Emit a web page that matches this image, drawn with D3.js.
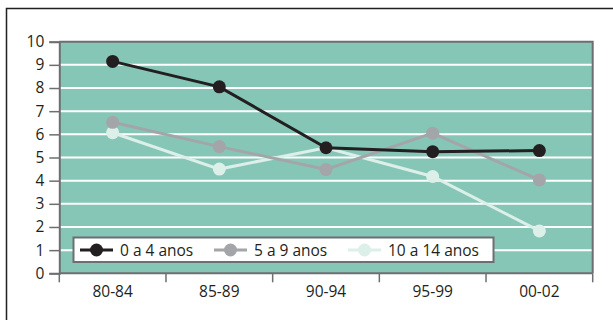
<!DOCTYPE html>
<html>
<head>
<meta charset="utf-8">
<script src="https://cdn.jsdelivr.net/npm/d3@7"></script>
<style>
  html, body { margin: 0; padding: 0; background: #fff; }
  svg { display: block; }
  text { font-family: "Open Sans", "DejaVu Sans", sans-serif; fill: #231f20; }
</style>
</head>
<body>
<svg id="chart" width="613" height="320"></svg>
<script>
// Periods on the horizontal axis
const periods = ["80-84", "85-89", "90-94", "95-99", "00-02"];

// Series values per age group
const age0to4 = [9.15, 8.05, 5.42, 5.25, 5.3];
const age5to9 = [6.52, 5.47, 4.48, 6.05, 4.03];
const age10to14 = [6.07, 4.5, 5.42, 4.18, 1.83];

// Labels
const seriesNames = ["0 a 4 anos", "5 a 9 anos", "10 a 14 anos"];
const yTicks = [0, 1, 2, 3, 4, 5, 6, 7, 8, 9, 10];

const series = [
  { name: seriesNames[0], values: age0to4, color: "#231f20" },
  { name: seriesNames[1], values: age5to9, color: "#a4a5a8" },
  { name: seriesNames[2], values: age10to14, color: "#dcefe9" }
];

const svg = d3.select("#chart");
const plotLeft = 59.3, plotRight = 592.7, plotTop = 41.7, plotBottom = 273.3;
const axisColor = "#6d6e71";
const fontSize = 15.5;

// Outer frame (only top and left edges fall inside the canvas)
svg.append("rect")
  .attr("x", 6.5).attr("y", 8.5)
  .attr("width", 640).attr("height", 340)
  .attr("fill", "none").attr("stroke", "#231f20").attr("stroke-width", 1.5);

const x = d3.scaleBand().domain(periods).range([plotLeft, plotRight]);
const y = d3.scaleLinear().domain([0, 10]).range([plotBottom, plotTop]);

// Plot background
svg.append("rect")
  .attr("x", plotLeft).attr("y", plotTop)
  .attr("width", plotRight - plotLeft).attr("height", plotBottom - plotTop)
  .attr("fill", "#86c6b7");

// Horizontal white gridlines
svg.append("g")
  .selectAll("line")
  .data(yTicks.filter(t => t > 0 && t < 10))
  .join("line")
  .attr("x1", plotLeft).attr("x2", plotRight)
  .attr("y1", d => y(d)).attr("y2", d => y(d))
  .attr("stroke", "#ffffff").attr("stroke-width", 2);

// Top and right frame of the plot area
svg.append("path")
  .attr("d", `M${plotLeft},${plotTop}H${plotRight}V${plotBottom}`)
  .attr("fill", "none").attr("stroke", axisColor).attr("stroke-width", 2);

// Y axis
const yAxis = svg.append("g")
  .attr("transform", `translate(${plotLeft},0)`)
  .call(d3.axisLeft(y).tickValues(yTicks).tickSize(10).tickPadding(5).tickFormat(d3.format("d")));
yAxis.select(".domain").attr("stroke", axisColor).attr("stroke-width", 2);
yAxis.selectAll(".tick line").attr("stroke", axisColor).attr("stroke-width", 1.5);
yAxis.selectAll(".tick text")
  .attr("font-size", fontSize).attr("fill", "#231f20")
  .attr("font-family", "'Open Sans', sans-serif");

// X axis with ticks at the category boundaries
const xAxisG = svg.append("g").attr("transform", `translate(0,${plotBottom})`);
xAxisG.append("line")
  .attr("x1", plotLeft).attr("x2", plotRight)
  .attr("stroke", axisColor).attr("stroke-width", 2);
const boundaries = periods.map(p => x(p)).concat([x(periods[periods.length - 1]) + x.bandwidth()]);
xAxisG.selectAll("line.tk")
  .data(boundaries)
  .join("line")
  .attr("class", "tk")
  .attr("x1", d => d).attr("x2", d => d)
  .attr("y1", 0).attr("y2", 9)
  .attr("stroke", axisColor).attr("stroke-width", 1.5);
xAxisG.selectAll("text")
  .data(periods)
  .join("text")
  .attr("x", d => x(d) + x.bandwidth() / 2)
  .attr("y", 24)
  .attr("text-anchor", "middle")
  .attr("font-size", fontSize)
  .text(d => d);

// Lines and markers, lightest series underneath
const line = d3.line()
  .x((d, i) => x(periods[i]) + x.bandwidth() / 2)
  .y(d => y(d));

const drawOrder = [series[2], series[1], series[0]];
drawOrder.forEach(s => {
  const g = svg.append("g");
  g.append("path")
    .datum(s.values)
    .attr("d", line)
    .attr("fill", "none")
    .attr("stroke", s.color)
    .attr("stroke-width", 3);
  g.selectAll("circle")
    .data(s.values)
    .join("circle")
    .attr("cx", (d, i) => x(periods[i]) + x.bandwidth() / 2)
    .attr("cy", d => y(d))
    .attr("r", 6.5)
    .attr("fill", s.color);
});

// Legend
const legend = svg.append("g");
legend.append("rect")
  .attr("x", 73.5).attr("y", 237.5)
  .attr("width", 420).attr("height", 24.5)
  .attr("fill", "#ffffff").attr("stroke", axisColor).attr("stroke-width", 2);

const legendX = [80, 214, 348];
series.forEach((s, i) => {
  const lx = legendX[i];
  const cy = 250;
  legend.append("line")
    .attr("x1", lx).attr("x2", lx + 33)
    .attr("y1", cy).attr("y2", cy)
    .attr("stroke", s.color).attr("stroke-width", 3);
  legend.append("circle")
    .attr("cx", lx + 16.5).attr("cy", cy).attr("r", 6.5)
    .attr("fill", s.color);
  legend.append("text")
    .attr("x", lx + 40).attr("y", cy + 5.5)
    .attr("font-size", fontSize)
    .text(s.name);
});
</script>
</body>
</html>
